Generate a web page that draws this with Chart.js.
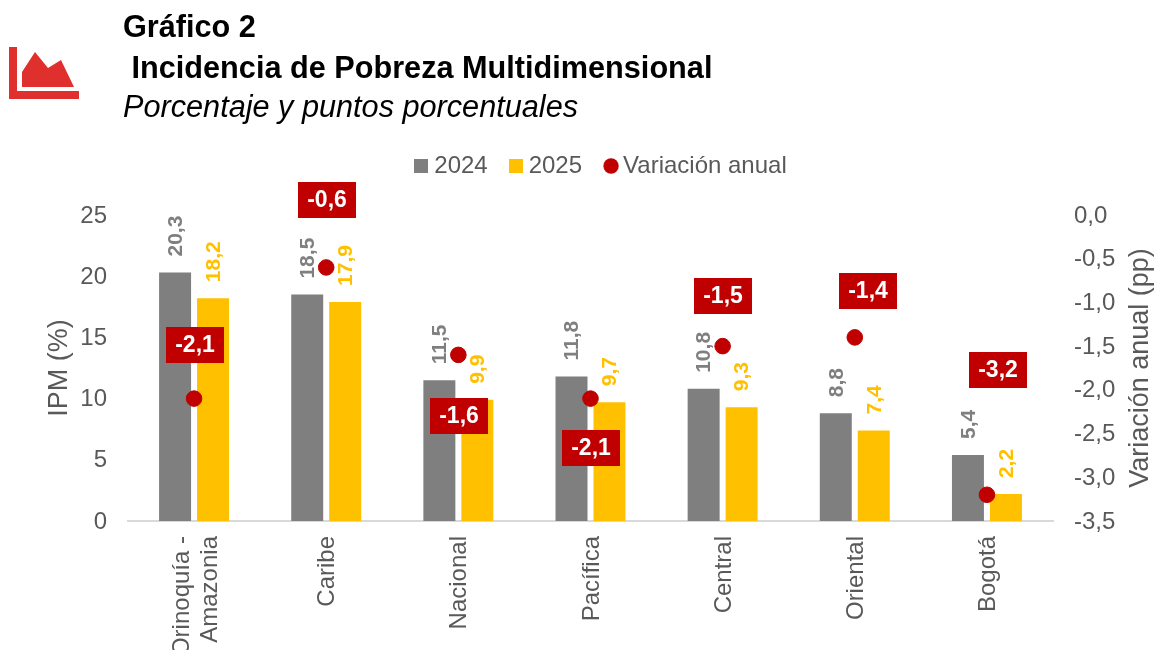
<!DOCTYPE html>
<html lang="es">
<head>
<meta charset="utf-8">
<title>Incidencia de Pobreza Multidimensional</title>
<script src="https://cdn.jsdelivr.net/npm/chart.js@4"></script>
<style>
html,body{margin:0;padding:0;background:#fff;overflow:hidden;width:1154px;height:650px}
#wrap{position:relative;width:1154px;height:650px;font-family:"Liberation Sans",Arial,sans-serif}
canvas{position:absolute;left:0;top:0}
.t{position:absolute;white-space:pre;color:#000;line-height:34px;font-size:30.67px}
#icon{position:absolute;left:0;top:0}
</style>
</head>
<body>
<div id="wrap">
<canvas id="c" width="1154" height="650"></canvas>
<svg id="icon" width="90" height="110" viewBox="0 0 90 110"><path fill="#E0302D" d="M9 47H17V91H79V99H9Z M22 72L35 52L48 68L61 60L74 87H22Z"/></svg>
<div class="t" style="left:123px;top:9px;font-weight:bold">Gráfico 2</div>
<div class="t" style="left:123px;top:50px;font-weight:bold"> Incidencia de Pobreza Multidimensional</div>
<div class="t" style="left:123px;top:89px;font-style:italic">Porcentaje y puntos porcentuales</div>
</div>
<script>
const categories = [["Orinoquía -","Amazonia"],"Caribe","Nacional","Pacífica","Central","Oriental","Bogotá"];
const ipm2024 = [20.3,18.5,11.5,11.8,10.8,8.8,5.4];
const ipm2025 = [18.2,17.9,9.9,9.7,9.3,7.4,2.2];
const variacion = [-2.1,-0.6,-1.6,-2.1,-1.5,-1.4,-3.2];
const leftTicks = [0,5,10,15,20,25];
const rightTicks = [0,-0.5,-1,-1.5,-2,-2.5,-3,-3.5];

const FONT = '"Liberation Sans", Arial, sans-serif';
const GREY = '#7F7F7F', GOLD = '#FFC000', RED = '#C00000', TXT = '#595959';
const comma = (v, d=1) => v.toFixed(d).replace('.', ',');

function swatch(kind, color){
  const c = document.createElement('canvas');
  c.width = kind === 'circle' ? 18 : 14;
  c.height = kind === 'circle' ? 16 : 14;
  const x = c.getContext('2d');
  x.fillStyle = color;
  if (kind === 'circle'){ x.beginPath(); x.arc(10,8,7.7,0,Math.PI*2); x.fill(); }
  else x.fillRect(0,0,14,14);
  return c;
}
const swatches = [swatch('rect',GREY), swatch('rect',GOLD), swatch('circle',RED)];

const labelPlugin = {
  id: 'labelPlugin',
  beforeLayout(chart, args, opts) {
    const l = chart.legend;
    if (l && !l._fixedH) {
      const f = l.fit;
      l.fit = function(){ f.call(this); this.height = opts.legendHeight; };
      l._fixedH = true;
    }
  },
  afterDatasetsDraw(chart, args, opts) {
    const ctx = chart.ctx;
    ctx.save();
    ctx.font = 'bold 21px ' + FONT;
    ctx.textBaseline = 'middle';
    [0,1].forEach(di => {
      const meta = chart.getDatasetMeta(di);
      ctx.fillStyle = chart.data.datasets[di].backgroundColor;
      meta.data.forEach((el,i) => {
        ctx.save();
        ctx.translate(el.x + 1, el.y - opts.gap);
        ctx.rotate(-Math.PI/2);
        ctx.textAlign = 'left';
        ctx.fillText(comma(chart.data.datasets[di].data[i]), 0, 0);
        ctx.restore();
      });
    });
    const lm = chart.getDatasetMeta(2);
    ctx.font = 'bold 23px ' + FONT;
    lm.data.forEach((el,i) => {
      const [dx,dy] = opts.offsets[i];
      const cx = Math.round(el.x + dx), cy = Math.round(el.y + dy);
      ctx.fillStyle = RED;
      ctx.fillRect(cx - 29, cy - 18, 58, 36);
      ctx.fillStyle = '#fff';
      ctx.textAlign = 'center';
      ctx.fillText(comma(chart.data.datasets[2].data[i]), cx, cy + 1);
    });
    // right-hand axis title reads bottom to top in the reference
    const a = chart.chartArea;
    ctx.save();
    ctx.translate(opts.rightTitleX, (a.top + a.bottom) / 2);
    ctx.rotate(-Math.PI/2);
    ctx.font = '27px ' + FONT;
    ctx.fillStyle = TXT;
    ctx.textAlign = 'center';
    ctx.fillText(opts.rightTitle, 0, 0);
    ctx.restore();
    ctx.restore();
  }
};

new Chart(document.getElementById('c'), {
  type: 'bar',
  data: {
    labels: categories,
    datasets: [
      {label:'2024', data: ipm2024, backgroundColor: GREY, yAxisID:'y', order:2,
       categoryPercentage:0.575, barPercentage:0.842},
      {label:'2025', data: ipm2025, backgroundColor: GOLD, yAxisID:'y', order:2,
       categoryPercentage:0.575, barPercentage:0.842},
      {type:'line', label:'Variación anual', data: variacion, yAxisID:'y1', order:1, showLine:false,
       backgroundColor: RED, borderColor: RED, pointRadius:7.8, pointHoverRadius:7.8, pointStyle:'circle'}
    ]
  },
  options: {
    responsive:false, animation:false,
    layout:{padding:{left:53,top:127,right:0,bottom:0}},
    plugins:{
      tooltip:{enabled:false},
      title:{display:false},
      legend:{position:'top',align:'center',
        labels:{
          usePointStyle:true,boxHeight:14,pointStyleWidth:2,padding:27,color:TXT,font:{family:FONT,size:24},
          sort:(a,b)=>a.datasetIndex-b.datasetIndex,
          generateLabels(chart){
            const items = Chart.defaults.plugins.legend.labels.generateLabels(chart);
            items.forEach(it => { it.pointStyle = swatches[it.datasetIndex]; });
            return items;
          }
        }},
      labelPlugin:{
        gap:16,
        legendHeight:88,
        rightTitle:'Variación anual (pp)',
        rightTitleX:1141,
        offsets:[[1,-53.6],[1,-67.5],[1,61],[0,49],[0,-50],[13,-46],[11,-124.8]]
      }
    },
    scales:{
      x:{
        position:'bottom',
        grid:{display:false,drawTicks:false},
        border:{display:true,color:'#D9D9D9',width:2},
        afterFit(s){
          s.height=129;
          if(!s._shifted){
            const orig=s._computeLabelItems;
            s._computeLabelItems=function(a){
              const items=orig.call(this,a);
              items.forEach(it=>{ if(Array.isArray(it.label)) it.options.translation[0]-=13.5; });
              return items;
            };
            s._shifted=true;
          }
        },
        ticks:{maxRotation:90,minRotation:90,autoSkip:false,padding:15,labelOffset:1.5,color:TXT,font:{family:FONT,size:24}}
      },
      y:{
        position:'left',min:0,max:25,
        afterFit(s){s.width=75},
        afterBuildTicks(s){s.ticks=leftTicks.map(v=>({value:v}))},
        grid:{display:false,drawTicks:false},border:{display:false},
        title:{display:true,text:'IPM (%)',color:TXT,font:{family:FONT,size:27},padding:{top:-10,bottom:0}},
        ticks:{padding:21,labelOffset:1,color:TXT,font:{family:FONT,size:24}}
      },
      y1:{
        position:'right',min:-3.5,max:0,
        afterFit(s){s.width=101},
        afterBuildTicks(s){s.ticks=rightTicks.map(v=>({value:v}))},
        grid:{display:false,drawTicks:false},border:{display:false},
        ticks:{padding:21,labelOffset:1,color:TXT,font:{family:FONT,size:24},callback:v=>comma(v)}
      }
    }
  },
  plugins:[labelPlugin]
});
</script>
</body>
</html>
